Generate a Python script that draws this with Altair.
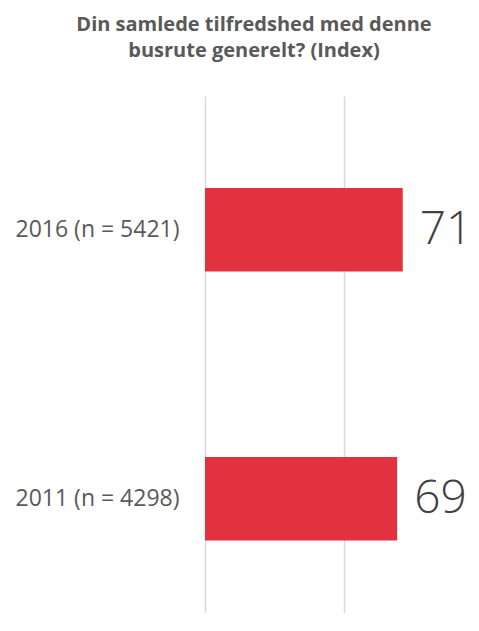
import altair as alt
import pandas as pd

categories = ["2016 (n = 5421)", "2011 (n = 4298)"]
values = [71, 69]
title_lines = ["Din samlede tilfredshed med denne", "busrute generelt? (Index)"]

df = pd.DataFrame({"label": categories, "value": values})

FONT = "Open Sans"

y_enc = alt.Y(
    "label:N",
    sort=categories,
    scale=alt.Scale(paddingInner=0.69, paddingOuter=0.306, align=0.559),
    axis=alt.Axis(
        title=None, ticks=False, domain=False, labelFontSize=23, labelColor="#595959",
        labelFont=FONT, labelPadding=26, labelLimit=300,
    ),
)
x_enc = alt.X(
    "value:Q",
    scale=alt.Scale(domain=[0, 95.5], nice=False),
    axis=alt.Axis(
        title=None, labels=False, ticks=False, domain=False, values=[0, 50],
        grid=True, gridColor="#d9d9d9", gridWidth=1.5,
    ),
)

bars = alt.Chart(df).mark_bar(color="#E3323F").encode(x=x_enc, y=y_enc)
text = alt.Chart(df).mark_text(
    align="left", baseline="middle", dx=17, fontSize=46, fontWeight=300,
    font=FONT, color="#404040",
).encode(x=alt.X("value:Q"), y=alt.Y("label:N", sort=categories), text="value:Q")

chart = (
    alt.layer(bars, text)
    .properties(
        width=266,
        height=517,
        padding={"left": 197, "top": 88, "right": 0, "bottom": 0},
        autosize=alt.AutoSizeParams(type="none"),
        title=alt.TitleParams(
            text=title_lines, anchor="middle", frame="group", dx=-84,
            fontSize=20, font=FONT, fontWeight="bold", color="#595959",
            offset=35, lineHeight=26,
        ),
    )
    .configure_view(stroke=None)
)

chart.save("out.html", embed_options={"renderer": "svg", "actions": False})
